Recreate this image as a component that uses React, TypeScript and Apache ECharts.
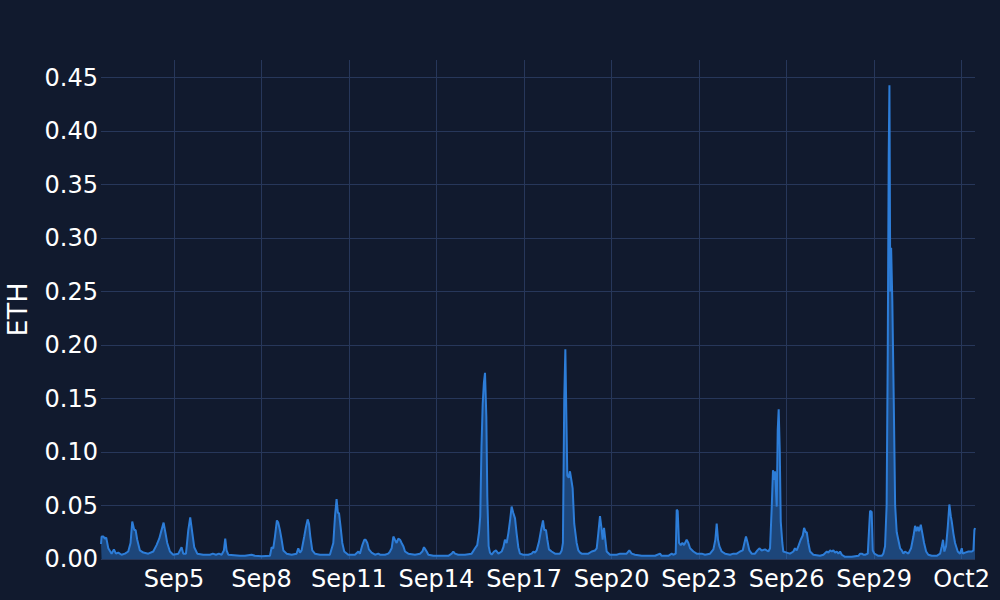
import React, { useEffect, useRef } from "react";
import * as echarts from "echarts";

// Hours since Sep 2 00:00 and ETH values
const hours = [
  12, 12.5, 14, 15.2, 16.3, 18, 20.7, 22.6, 24.3, 26.2, 28.9, 31.7, 34.4, 36.3, 37.7, 39.4, 40.5, 41.8, 44, 46.8,
  50.9, 55, 57.7, 59.9, 61.8, 63.5, 65.1, 66.5, 68.7, 71.4, 75.6, 78.3, 79.7, 81.9, 83.8, 85.4, 86.8, 88.7, 91.2, 96.1,
  101.6, 104, 106.6, 109, 111.2, 113.1, 114.2, 115.3, 116.7, 126.3, 130.4, 135.9, 138.6, 144.1, 151, 152.4, 153.7, 155.1, 156.7, 157.8,
  159.2, 160.6, 162, 164.7, 168.8, 172.9, 174.3, 175.7, 177, 179.2, 180.6, 182, 183.1, 184.2, 185.8, 188, 192.1, 200.3, 203.1, 204.5,
  205.8, 206.9, 207.8, 209.1, 210.5, 212.1, 215.4, 220.9, 223.7, 225, 227, 228.6, 229.7, 231.1, 232.4, 234.6, 237.4, 240.1, 241.5, 245.6,
  248.3, 249.7, 251.1, 252.5, 253.8, 255.2, 256.6, 258, 259.3, 260.7, 262.1, 264.8, 270.3, 274.4, 276.3, 277.7, 278.8, 279.9, 281.3, 285.4,
  290.9, 297.7, 300.5, 301.8, 303.2, 305.9, 311.4, 316.9, 319.7, 321.5, 323, 324, 325, 326, 327, 327.9, 329, 329.8, 330.9, 332,
  333.4, 335.3, 336.9, 338.9, 341.6, 343, 344.3, 345.7, 347.1, 348.5, 349.8, 351.2, 352.6, 353.9, 355.3, 356.7, 359.4, 363.5, 366.3, 367.7,
  369, 370.4, 372.3, 374, 375.6, 376.7, 378.1, 379.2, 380.5, 382.7, 385.5, 389.6, 391, 392, 392.6, 393.1, 394, 394.8, 395.6, 396.8,
  397.8, 399.2, 400, 401.3, 403.3, 404.7, 406.1, 407.4, 410.2, 412.9, 415.7, 418.4, 419.8, 421.1, 422.5, 423.6, 424.7, 425.8, 426.9, 428,
  430.7, 433.5, 436.2, 439, 444.4, 446.6, 448.6, 451.3, 456.8, 462.3, 467.8, 471.9, 473.2, 478.7, 481.5, 482.8, 484.8, 485.6, 486.4, 487.5,
  488.9, 490.3, 491.6, 493.8, 495.2, 496.6, 499.3, 502, 506.2, 508.9, 513, 515.8, 517.4, 518.5, 519.6, 520.7, 522.6, 525.4, 529.5, 532.2,
  535, 537.7, 539.9, 541.3, 542.6, 544, 545.4, 547.3, 550, 552, 553.6, 555.5, 558.3, 561, 562.4, 563.8, 564.8, 565.7, 566.5, 567.9,
  568.7, 569.5, 570.4, 571.2, 572.5, 573.3, 576.1, 578.8, 581.6, 582.9, 584.3, 585.7, 587.6, 589.3, 590.4, 591.8, 592.6, 593.9, 595.3, 598,
  603.5, 606.3, 609.1, 610.4, 611.8, 613.2, 614.5, 615.9, 617.3, 618.6, 620, 621.4, 624.1, 629.6, 635.1, 636.5, 637.8, 639.2, 640.6, 642.8,
  644.1, 644.7, 646, 646.9, 648.2, 651.5, 654.3, 655.6, 657, 658.3, 659.2, 660, 660.6, 661.3, 662, 663, 664.2, 665.3, 666.6, 667.9,
  669.4, 670.8, 672.1, 673.4, 676.2, 678.4, 680.3, 681.7, 682.8, 683.9, 685, 686.4, 687.7, 689.1, 690.8, 692.6, 695.4, 699.5, 702.3, 703.7,
  704.7, 705.8, 707.2, 708.6, 709.9, 711.1, 711.9, 713.2, 714.6, 716.8, 718.7, 720.1, 720.9, 722.8, 725.6, 728.4, 729.7, 730.5, 731,
];

const eth = [
  0.014, 0.021, 0.021, 0.019, 0.02, 0.01, 0.005, 0.009, 0.005, 0.006, 0.004, 0.005, 0.007, 0.015, 0.035, 0.027, 0.027, 0.018, 0.008, 0.006,
  0.005, 0.007, 0.013, 0.019, 0.027, 0.034, 0.024, 0.015, 0.007, 0.004, 0.005, 0.011, 0.005, 0.005, 0.027, 0.039, 0.027, 0.011, 0.005, 0.004,
  0.004, 0.005, 0.004, 0.005, 0.004, 0.008, 0.019, 0.008, 0.004, 0.003, 0.003, 0.004, 0.003, 0.0025, 0.003, 0.011, 0.01, 0.021, 0.036, 0.034,
  0.027, 0.018, 0.008, 0.005, 0.004, 0.005, 0.01, 0.006, 0.008, 0.021, 0.03, 0.037, 0.033, 0.021, 0.008, 0.005, 0.004, 0.004, 0.015, 0.04,
  0.056, 0.043, 0.043, 0.03, 0.015, 0.007, 0.004, 0.004, 0.007, 0.005, 0.013, 0.018, 0.018, 0.015, 0.009, 0.006, 0.004, 0.005, 0.004, 0.004,
  0.005, 0.007, 0.01, 0.021, 0.018, 0.015, 0.019, 0.018, 0.015, 0.012, 0.007, 0.005, 0.004, 0.005, 0.007, 0.011, 0.009, 0.007, 0.004, 0.003,
  0.003, 0.003, 0.005, 0.007, 0.005, 0.004, 0.004, 0.005, 0.01, 0.013, 0.025, 0.04, 0.105, 0.145, 0.165, 0.174, 0.133, 0.058, 0.012, 0.006,
  0.004, 0.007, 0.008, 0.005, 0.007, 0.011, 0.018, 0.015, 0.024, 0.036, 0.049, 0.043, 0.038, 0.024, 0.011, 0.005, 0.004, 0.004, 0.005, 0.007,
  0.006, 0.008, 0.016, 0.027, 0.036, 0.027, 0.027, 0.018, 0.009, 0.007, 0.005, 0.005, 0.008, 0.015, 0.09, 0.15, 0.196, 0.136, 0.078, 0.076,
  0.082, 0.072, 0.066, 0.033, 0.015, 0.008, 0.006, 0.005, 0.005, 0.005, 0.007, 0.008, 0.01, 0.024, 0.04, 0.03, 0.018, 0.029, 0.018, 0.007,
  0.004, 0.004, 0.004, 0.005, 0.005, 0.008, 0.005, 0.004, 0.003, 0.003, 0.003, 0.005, 0.003, 0.003, 0.005, 0.004, 0.005, 0.046, 0.045, 0.015,
  0.013, 0.015, 0.013, 0.018, 0.015, 0.01, 0.007, 0.005, 0.005, 0.004, 0.005, 0.009, 0.018, 0.033, 0.018, 0.012, 0.007, 0.005, 0.004, 0.005,
  0.005, 0.007, 0.008, 0.015, 0.021, 0.015, 0.008, 0.005, 0.005, 0.008, 0.01, 0.008, 0.009, 0.007, 0.01, 0.049, 0.083, 0.074, 0.082, 0.049,
  0.12, 0.14, 0.1, 0.035, 0.015, 0.007, 0.006, 0.005, 0.007, 0.01, 0.008, 0.012, 0.018, 0.022, 0.029, 0.025, 0.025, 0.015, 0.007, 0.004,
  0.003, 0.004, 0.007, 0.006, 0.008, 0.007, 0.008, 0.006, 0.007, 0.005, 0.007, 0.004, 0.002, 0.002, 0.003, 0.005, 0.005, 0.004, 0.004, 0.005,
  0.033, 0.045, 0.044, 0.008, 0.005, 0.003, 0.003, 0.005, 0.012, 0.05, 0.19, 0.376, 0.443, 0.25, 0.291, 0.24, 0.145, 0.05, 0.025, 0.018,
  0.01, 0.008, 0.005, 0.007, 0.005, 0.01, 0.021, 0.031, 0.026, 0.03, 0.026, 0.032, 0.024, 0.015, 0.007, 0.004, 0.003, 0.003, 0.005, 0.012,
  0.018, 0.007, 0.012, 0.03, 0.051, 0.04, 0.035, 0.024, 0.015, 0.007, 0.005, 0.01, 0.005, 0.006, 0.007, 0.007, 0.008, 0.027, 0.029,
];

// x tick positions (hours since Sep 2 00:00) and labels
const tickHours = [72, 144, 216, 288, 360, 432, 504, 576, 648, 720];
const tickLabels = ["Sep5", "Sep8", "Sep11", "Sep14", "Sep17", "Sep20", "Sep23", "Sep26", "Sep29", "Oct2"];
const yTicks = [0, 0.05, 0.1, 0.15, 0.2, 0.25, 0.3, 0.35, 0.4, 0.45];

const BG = "#111a2e";
const GRID = "#27375a";
const LINE = "#2d7dd8";
const FONT = "DejaVu Sans";

export default function App() {
  const ref = useRef<HTMLDivElement>(null);
  useEffect(() => {
    if (!ref.current) return;
    const chart = echarts.init(ref.current, undefined, { renderer: "svg" });
    const data = hours.map((h, i) => [h, eth[i]]);
    chart.setOption({
      animation: false,
      backgroundColor: BG,
      grid: {
        left: 101,
        right: 25,
        top: 60,
        bottom: 41,
        containLabel: false,
        outerBoundsMode: "none",
      },
      xAxis: {
        type: "value",
        min: 12,
        max: 731,
        axisLine: { show: false },
        axisTick: { show: false, customValues: tickHours },
        axisLabel: {
          customValues: tickHours,
          color: "#ffffff",
          fontFamily: FONT,
          fontSize: 24,
          margin: 8,
          formatter: (v: number) => {
            const i = tickHours.indexOf(Math.round(v));
            return i >= 0 ? tickLabels[i] : "";
          },
        },
        splitLine: { show: true, lineStyle: { color: GRID, width: 1 } },
      },
      yAxis: {
        type: "value",
        min: 0,
        max: 0.4665,
        name: "ETH",
        nameLocation: "middle",
        nameGap: 70,
        nameTextStyle: { color: "#ffffff", fontFamily: FONT, fontSize: 27 },
        axisLine: { show: false },
        axisTick: { show: false, customValues: yTicks },
        axisLabel: {
          customValues: yTicks,
          color: "#ffffff",
          fontFamily: FONT,
          fontSize: 24,
          margin: 3,
          formatter: (v: number) => v.toFixed(2),
        },
        splitLine: { show: true, lineStyle: { color: GRID, width: 1 } },
      },
      series: [
        {
          type: "line",
          data,
          showSymbol: false,
          smooth: false,
          lineStyle: { color: LINE, width: 2 },
          itemStyle: { color: LINE },
          areaStyle: { color: LINE, opacity: 0.45 },
        },
      ],
    });
    return () => chart.dispose();
  }, []);
  return (
    <div
      ref={ref}
      style={{ position: "fixed", left: 0, top: 0, width: 1000, height: 600, background: BG }}
    />
  );
}
